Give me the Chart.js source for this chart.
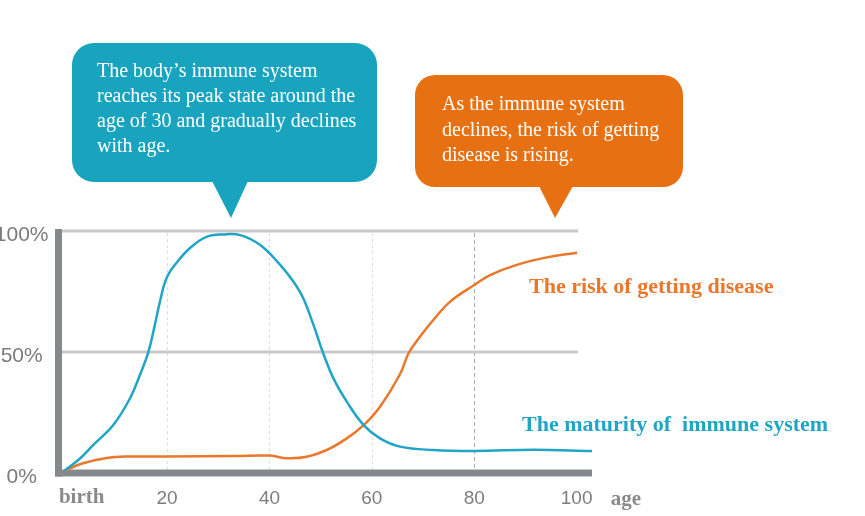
<!DOCTYPE html>
<html lang="en">
<head>
<meta charset="utf-8" />
<title>Immune system maturity and disease risk by age</title>
<style>
  html, body { margin: 0; padding: 0; background: #ffffff; }
  #wrap { position: relative; width: 865px; height: 516px; }
</style>
</head>
<body>
<div id="wrap"><canvas id="chart"></canvas></div>

<script src="https://cdn.jsdelivr.net/npm/chart.js@4"></script>

<script>
  // values (age in years, level in %)
  const immuneAges = [0, 3, 5.6, 9.5, 12.8, 14.7, 16.3, 17.6, 18.6, 19.9, 21.9, 24.5, 27.7, 31, 34.3, 38.2, 42.1, 44.7, 46.6, 48.6, 50.5, 52.5, 55.1, 58.4, 61.6, 65.5, 72, 80, 91.6, 103];
  const immuneMaturity = [1, 6, 11.6, 19.8, 31, 40.5, 49.6, 61, 70.7, 80.5, 87, 93, 97.6, 98.6, 98.3, 94.2, 86, 79, 72.2, 61.2, 49.5, 39.1, 29.5, 19.8, 14.3, 10.9, 9.5, 9.1, 9.6, 9.1];
  const riskAges = [0, 3.6, 8.2, 12, 20, 33, 40.1, 43.4, 47.3, 51.2, 55.1, 58.4, 61.6, 65.5, 67.2, 69.4, 72, 75.3, 80, 83.1, 88.3, 94.2, 100.1];
  const diseaseRisk = [1, 4, 6.2, 6.8, 6.8, 7, 7.2, 6.1, 6.7, 9.5, 14.3, 19.8, 27.4, 40.8, 49.6, 56.3, 63.2, 70.8, 77.7, 81.8, 86, 89.1, 91];

  const xTicks = [0, 20, 40, 60, 80, 100];
  const xTickLabels = ['birth', '20', '40', '60', '80', '100'];
  const yTicks = [0, 50, 100];
  const yTickLabels = ['0%', '50%', '100%'];
  const xAxisTitle = 'age';
  const seriesNames = ['The maturity of  immune system', 'The risk of getting disease'];
  const immuneNote = ['The body\u2019s immune system', 'reaches its peak state around the', 'age of 30 and gradually declines', 'with age.'];
  const riskNote = ['As the immune system', 'declines, the risk of getting', 'disease is rising.'];

  const BLUE = '#21a5c7';
  const ORANGE = '#e9772c';
  const BOX_BLUE = '#18a3bf';
  const BOX_ORANGE = '#e67012';
  const AXIS = '#86898c';
  const SERIF = '"Liberation Serif", "Times New Roman", serif';
  const SANS = '"Liberation Sans", Arial, sans-serif';

  function roundRect(ctx, l, t, r, b, rad) {
    ctx.beginPath();
    ctx.moveTo(l + rad, t);
    ctx.arcTo(r, t, r, b, rad);
    ctx.arcTo(r, b, l, b, rad);
    ctx.arcTo(l, b, l, t, rad);
    ctx.arcTo(l, t, r, t, rad);
    ctx.closePath();
  }

  function bubble(ctx, box, tip, color, lines, textX, firstBase, lineGap) {
    ctx.save();
    ctx.fillStyle = color;
    roundRect(ctx, box.l, box.t, box.r, box.b, box.rad);
    ctx.fill();
    ctx.beginPath();
    ctx.moveTo(tip.from, box.b - 1);
    ctx.lineTo(tip.to, box.b - 1);
    ctx.lineTo(tip.x, tip.y);
    ctx.closePath();
    ctx.fill();
    ctx.fillStyle = '#ffffff';
    ctx.font = '20px ' + SERIF;
    ctx.textAlign = 'left';
    ctx.textBaseline = 'alphabetic';
    lines.forEach((line, i) => ctx.fillText(line, textX, firstBase + i * lineGap));
    ctx.restore();
  }

  // grid lines and the thick grey axes, under the curves
  const framePlugin = {
    id: 'frame',
    beforeDatasetsDraw(chart) {
      const { ctx, chartArea: a, scales: { x, y } } = chart;
      ctx.save();
      // dashed verticals
      xTicks.slice(1, -1).forEach(v => {
        const px = Math.round(x.getPixelForValue(v)) + 0.5;
        ctx.strokeStyle = v === 80 ? '#a9a9a9' : '#dedede';
        ctx.setLineDash(v === 80 ? [4, 3] : [3, 3]);
        ctx.lineWidth = 1;
        ctx.beginPath();
        ctx.moveTo(px, a.top + 2);
        ctx.lineTo(px, a.bottom - 3);
        ctx.stroke();
      });
      ctx.setLineDash([]);
      // horizontal gridlines (stop at age 100)
      const gridEnd = x.getPixelForValue(100.3);
      yTicks.slice(1).forEach(v => {
        const py = y.getPixelForValue(v);
        ctx.fillStyle = '#c9c9c9';
        ctx.fillRect(a.left, py - 1.5, gridEnd - a.left, 3);
      });
      // axes
      ctx.fillStyle = AXIS;
      ctx.fillRect(a.left - 3.5, a.top - 2, 7, a.bottom - a.top + 5.5);
      ctx.fillRect(a.left - 3.5, a.bottom - 3.5, a.right - a.left + 3.5, 7);
      ctx.restore();
    },
    afterDatasetsDraw(chart) {
      const { ctx, scales: { x } } = chart;
      ctx.save();
      ctx.textBaseline = 'middle';
      // first tick label and axis title in bold serif
      ctx.fillStyle = '#8a8a8a';
      ctx.font = 'bold 21px ' + SERIF;
      ctx.textAlign = 'center';
      ctx.fillText(xTickLabels[0], x.getPixelForValue(0) + 17, 498);
      ctx.fillText(xAxisTitle, 626, 500);
      // series names
      ctx.textAlign = 'left';
      ctx.font = 'bold 22px ' + SERIF;
      ctx.fillStyle = ORANGE;
      ctx.fillText(seriesNames[1], 529, 287);
      ctx.fillStyle = BLUE;
      ctx.fillText(seriesNames[0], 522, 425);
      ctx.restore();

      bubble(ctx, { l: 72, t: 43, r: 377, b: 182, rad: 22 }, { from: 212, to: 248, x: 231, y: 218 },
             BOX_BLUE, immuneNote, 97, 77, 25);
      bubble(ctx, { l: 415, t: 75, r: 683, b: 187, rad: 20 }, { from: 539, to: 573, x: 555, y: 218 },
             BOX_ORANGE, riskNote, 442, 110, 25.5);
    }
  };

  new Chart(document.getElementById('chart'), {
    type: 'line',
    data: {
      datasets: [
        {
          label: seriesNames[0],
          data: immuneAges.map((a, i) => ({ x: a, y: immuneMaturity[i] })),
          borderColor: BLUE,
          borderWidth: 2.5,
          pointRadius: 0,
          tension: 0.4
        },
        {
          label: seriesNames[1],
          data: riskAges.map((a, i) => ({ x: a, y: diseaseRisk[i] })),
          borderColor: ORANGE,
          borderWidth: 2.5,
          pointRadius: 0,
          tension: 0.4
        }
      ]
    },
    options: {
      responsive: true,
      maintainAspectRatio: false,
      animation: false,
      layout: { padding: { top: 231, right: 273, left: 0, bottom: 0 } },
      plugins: {
        legend: { display: false },
        tooltip: { enabled: false }
      },
      scales: {
        x: {
          type: 'linear',
          min: -1.2,
          max: 103,
          grid: { display: false, drawTicks: false },
          border: { display: false },
          afterBuildTicks: s => { s.ticks = xTicks.map(v => ({ value: v })); },
          afterFit: s => { s.height = 43; },
          ticks: {
            padding: 14,
            maxRotation: 0,
            autoSkip: false,
            color: '#7d7d7d',
            font: { family: SANS, size: 19 },
            callback: v => (v === 0 ? '' : xTickLabels[xTicks.indexOf(v)])
          }
        },
        y: {
          min: 0,
          max: 100,
          grid: { display: false, drawTicks: false },
          border: { display: false },
          afterBuildTicks: s => { s.ticks = yTicks.map(v => ({ value: v })); },
          afterFit: s => { s.width = 58.5; },
          ticks: {
            padding: 10,
            crossAlign: 'center',
            labelOffset: 4,
            color: '#7b7b7b',
            font: { family: SANS, size: 21 },
            callback: v => yTickLabels[yTicks.indexOf(v)]
          }
        }
      }
    },
    plugins: [framePlugin]
  });
</script>
</body>
</html>
